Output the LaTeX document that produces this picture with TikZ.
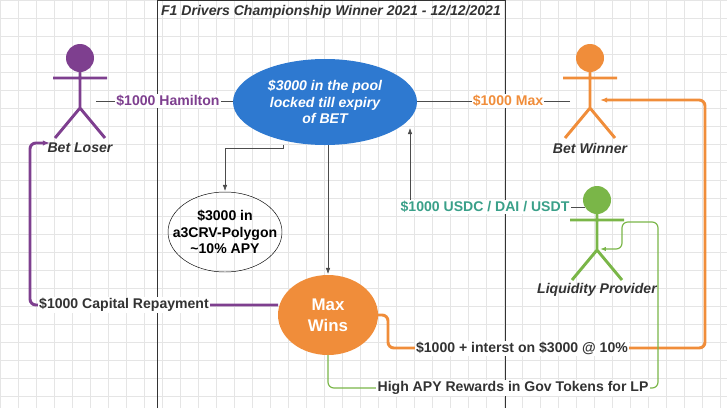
\documentclass[tikz,border=0pt]{standalone}
\usepackage{fontspec}
\setmainfont{Liberation Sans}
\usetikzlibrary{arrows.meta}
\definecolor{lpurple}{HTML}{7E3F8F}
\definecolor{lorange}{HTML}{F08D3A}
\definecolor{lgreen}{HTML}{7AB648}
\definecolor{lteal}{HTML}{3AA089}
\definecolor{lblue}{HTML}{2E79D0}
\tikzset{
    lbl/.style={font=\bfseries\large, inner sep=1pt, fill=white},
    actorlbl/.style={font=\bfseries\itshape\large, text=black!80},
    thinln/.style={draw=black!70, line width=0.5pt},
}
\newcommand{\stick}[5]{% name, color, x, y (head), label
    \fill[#2] (#3,#4) circle (14);
    \draw[#2, line width=2.5pt] (#3,#4+14) -- (#3,#4+50)
        (#3-27,#4+20) -- (#3+27,#4+20)
        (#3-25,#4+80) -- (#3,#4+50) -- (#3+25,#4+80);
    \coordinate (#1) at (#3,#4+50);
    \node[actorlbl] (#1-l) at (#3,#4+90) {#5};
}
\begin{document}
\begin{tikzpicture}[x=0.03cm, y=-0.03cm]
    \useasboundingbox (0,0) rectangle (727,408);
    \draw[black!10, step=0.54cm] (0,0) grid (727,408);
    \draw[black!80] (157,408) -- (157,0) -- (505,0) -- (505,408);
    \node[actorlbl] (title) at (331,12) {F1 Drivers Championship Winner 2021 - 12/12/2021};
    \stick{loser}{lpurple}{80}{58}{Bet Loser}
    \stick{winner}{lorange}{590}{58}{Bet Winner}
    \stick{lp}{lgreen}{597}{200}{Liquidity Provider}
    \fill[lblue] (325,102) ellipse (92 and 43);
    \node[align=center, text=white, font=\bfseries\itshape\large] (pool) at (325,102) {\$3000 in the pool\\locked till expiry\\of BET};
    \draw[black] (225,232) ellipse (57 and 40);
    \node[align=center, font=\bfseries\large, inner sep=0pt] (aave) at (225,232) {\$3000 in\\a3CRV-Polygon\\\textasciitilde10\% APY};
    \fill[lorange] (328,315) ellipse (50 and 40);
    \node[align=center, text=white, font=\bfseries\Large] (max) at (328,315) {Max\\Wins};
    % pool links
    \draw[thinln] (96,101) -- (233,101);
    \node[lbl, text=lpurple] (ham) at (168,101) {\$1000 Hamilton};
    \draw[thinln] (570,101) -- (417,101);
    \node[lbl, text=lorange] (mx) at (508,101) {\$1000 Max};
    \draw[thinln, -Latex] (283,145) -- (283,148) -- (225,148) -- (225,191);
    \draw[thinln, -Latex] (328,145) -- (328,274);
    \draw[thinln, -Latex] (585,207) -- (410,207) -- (410,128);
    \node[lbl, text=lteal] (usd) at (485,207) {\$1000 USDC / DAI / USDT};
    % payouts
    \draw[lpurple, line width=2.5pt, rounded corners=5pt, -{Latex[length=6pt]}] (278,305) -- (30,305) -- (30,143) -- (50,143);
    \node[lbl, text=black!80] (rep) at (124,305) {\$1000 Capital Repayment};
    \draw[lorange, line width=2.5pt, rounded corners=5pt, -{Latex[length=6pt]}] (378,315) -- (388,315) -- (388,348) -- (705,348) -- (705,100) -- (600,100);
    \node[lbl, text=black!80] (int) at (522,348) {\$1000 + interst on \$3000 @ 10\%};
    \draw[lgreen, line width=1pt, rounded corners=5pt, -{Latex[length=5pt]}] (328,355) -- (328,388) -- (658,388) -- (658,222) -- (622,222) -- (622,249) -- (600,249);
    \node[lbl, text=black!80] (gov) at (513,388) {High APY Rewards in Gov Tokens for LP};
\end{tikzpicture}
\end{document}
